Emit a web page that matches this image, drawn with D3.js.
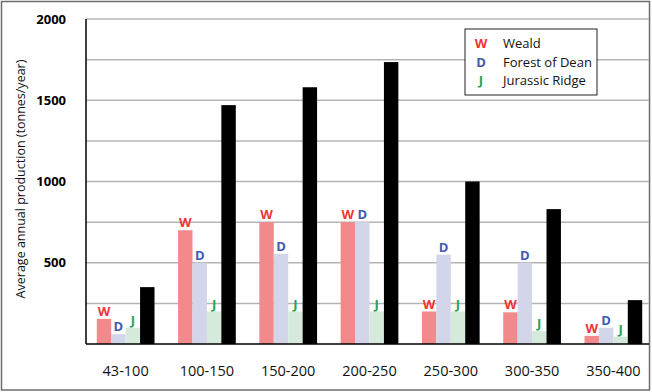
<!DOCTYPE html>
<html>
<head>
<meta charset="utf-8">
<script src="https://cdn.jsdelivr.net/npm/d3@7"></script>
<style>
  body { margin: 0; background: #fff; }
  svg { display: block; font-family: "Open Sans", "Noto Sans", sans-serif; }
</style>
</head>
<body>
<div id="chart"></div>
<script>
const categories = ['43-100', '100-150', '150-200', '200-250', '250-300', '300-350', '350-400'];
const weald = [155, 700, 750, 750, 200, 195, 50];
const forestOfDean = [60, 500, 555, 750, 550, 500, 100];
const jurassicRidge = [100, 200, 200, 200, 200, 80, 45];
const total = [350, 1470, 1580, 1735, 1000, 830, 270];
const yTickLabels = [500, 1000, 1500, 2000];
const gridValues = [250, 500, 750, 1000, 1250, 1500, 1750, 2000];

const series = [
    {key: 'W', name: 'Weald', values: weald, fill: '#f28a8c', label: '#ef3535'},
    {key: 'D', name: 'Forest of Dean', values: forestOfDean, fill: '#d3d5ea', label: '#3f5bb0'},
    {key: 'J', name: 'Jurassic Ridge', values: jurassicRidge, fill: '#d5eada', label: '#22a456'},
    {key: 'T', name: null, values: total, fill: '#000000', label: null}
];

const width = 652;
const height = 392;
const plot = {left: 86, top: 19, bottom: 344, right: 649};

const svg = d3.select('#chart')
  .append('svg')
    .attr('width', width)
    .attr('height', height);

// outer frame
svg.append('rect')
    .attr('x', 1.5).attr('y', 1.5)
    .attr('width', width - 4).attr('height', height - 3.5)
    .attr('fill', '#fff')
    .attr('stroke', '#6e6e6e')
    .attr('stroke-width', 1.5);

const yScale = d3.scaleLinear()
    .domain([0, 2000])
    .range([plot.bottom, plot.top]);

const xScale = d3.scaleBand()
    .domain(categories)
    .range([85, 654])
    .paddingInner(0.29)
    .paddingOuter(0.145);

const xSub = d3.scaleBand()
    .domain(series.map(s => s.key))
    .range([0, xScale.bandwidth()]);

// gridlines
svg.append('g')
  .selectAll('line')
  .data(gridValues)
  .join('line')
    .attr('x1', plot.left).attr('x2', plot.right)
    .attr('y1', d => yScale(d)).attr('y2', d => yScale(d))
    .attr('stroke', '#b4b4b4')
    .attr('stroke-width', 1.5);

// bars
const groups = svg.append('g')
  .selectAll('g')
  .data(categories)
  .join('g')
    .attr('transform', d => `translate(${xScale(d)},0)`);

groups.selectAll('rect')
  .data((c, i) => series.map(s => ({s, v: s.values[i]})))
  .join('rect')
    .attr('x', d => xSub(d.s.key))
    .attr('width', xSub.bandwidth())
    .attr('y', d => yScale(d.v))
    .attr('height', d => yScale(0) - yScale(d.v))
    .attr('fill', d => d.s.fill);

groups.selectAll('text.bar-label')
  .data((c, i) => series.filter(s => s.label).map(s => ({s, v: s.values[i]})))
  .join('text')
    .attr('class', 'bar-label')
    .attr('x', d => xSub(d.s.key) + xSub.bandwidth() / 2)
    .attr('y', d => yScale(d.v) - 3)
    .attr('text-anchor', 'middle')
    .attr('font-size', 13)
    .attr('font-weight', 'bold')
    .attr('fill', d => d.s.label)
    .text(d => d.s.key);

// axes lines
svg.append('line')
    .attr('x1', plot.left).attr('x2', plot.left)
    .attr('y1', plot.top).attr('y2', plot.bottom)
    .attr('stroke', '#000').attr('stroke-width', 1.5);
svg.append('line')
    .attr('x1', plot.left).attr('x2', plot.right)
    .attr('y1', plot.bottom).attr('y2', plot.bottom)
    .attr('stroke', '#000').attr('stroke-width', 1.5);

// y tick labels
svg.append('g')
  .selectAll('text')
  .data(yTickLabels)
  .join('text')
    .attr('x', 66)
    .attr('y', d => yScale(d))
    .attr('dy', '0.35em')
    .attr('text-anchor', 'end')
    .attr('font-size', 13)
    .attr('font-weight', 'bold')
    .attr('fill', '#000')
    .text(d => d);

// x tick labels
svg.append('g')
  .selectAll('text')
  .data(categories)
  .join('text')
    .attr('x', d => xScale(d) + xScale.bandwidth() / 2)
    .attr('y', 376)
    .attr('text-anchor', 'middle')
    .attr('font-size', 14.5)
    .attr('fill', '#111')
    .text(d => d);

// y axis title
svg.append('text')
    .attr('transform', 'translate(25,179) rotate(-90)')
    .attr('text-anchor', 'middle')
    .attr('font-size', 12.5)
    .attr('fill', '#111')
    .text('Average annual production (tonnes/year)');

// legend
const legend = svg.append('g')
    .attr('transform', 'translate(465,29)');
legend.append('rect')
    .attr('width', 132).attr('height', 66)
    .attr('fill', '#fff')
    .attr('stroke', '#222')
    .attr('stroke-width', 1);
const items = legend.selectAll('g')
  .data(series.filter(s => s.name))
  .join('g')
    .attr('transform', (d, i) => `translate(0,${19 + i * 18.5})`);
items.append('text')
    .attr('x', 16)
    .attr('text-anchor', 'middle')
    .attr('font-size', 13)
    .attr('font-weight', 'bold')
    .attr('fill', d => d.label)
    .text(d => d.key);
items.append('text')
    .attr('x', 38)
    .attr('font-size', 13)
    .attr('fill', '#111')
    .text(d => d.name);
</script>
</body>
</html>
